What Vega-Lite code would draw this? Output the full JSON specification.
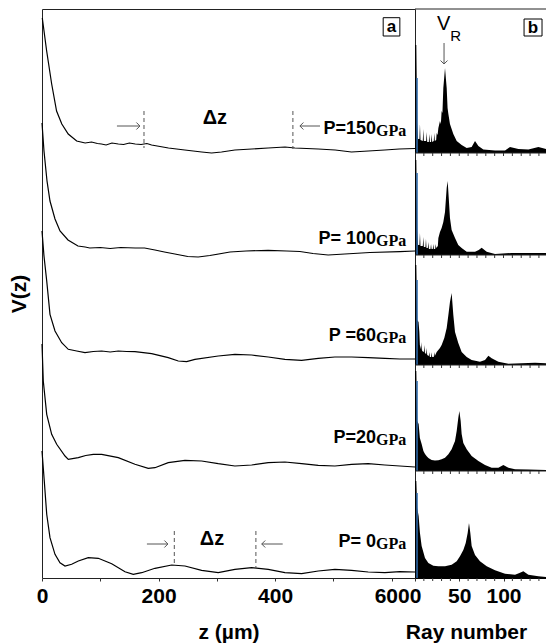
{
  "$schema": "https://vega.github.io/schema/vega-lite/v6.json",
  "padding": {"left": 7, "top": 8, "right": 0, "bottom": 0},
  "autosize": {"type": "pad"},
  "config": {
    "font": "Liberation Sans",
    "view": {"stroke": null},
    "axis": {"grid": false, "domainColor": "#000", "tickColor": "#333", "labelFont": "Liberation Sans", "titleFont": "Liberation Sans", "labelFontWeight": "bold", "titleFontWeight": "bold", "labelColor": "#000", "titleColor": "#000", "labelFontSize": 21, "titleFontSize": 21, "labelOverlap": false}
  },
  "datasets": {
    "vz": [
      {"P":150,"z":0.5,"v":560},{"P":150,"z":8,"v":527},{"P":150,"z":16.6,"v":494},{"P":150,"z":25,"v":467},{"P":150,"z":34,"v":454},{"P":150,"z":45,"v":444},{"P":150,"z":59.5,"v":437},{"P":150,"z":74,"v":435},{"P":150,"z":85,"v":436},{"P":150,"z":95,"v":434.5},{"P":150,"z":102,"v":434},{"P":150,"z":110,"v":433},{"P":150,"z":120,"v":435},{"P":150,"z":131,"v":434},{"P":150,"z":140,"v":433.5},{"P":150,"z":150,"v":435},{"P":150,"z":160,"v":434},{"P":150,"z":170,"v":433.5},{"P":150,"z":180,"v":434.5},{"P":150,"z":188,"v":433},{"P":150,"z":217,"v":430},{"P":150,"z":245,"v":428},{"P":150,"z":274,"v":426},{"P":150,"z":291,"v":425},{"P":150,"z":308,"v":426},{"P":150,"z":331,"v":428},{"P":150,"z":360,"v":429},{"P":150,"z":388,"v":430},{"P":150,"z":417,"v":431},{"P":150,"z":434,"v":430},{"P":150,"z":474,"v":429},{"P":150,"z":503,"v":428},{"P":150,"z":531,"v":426},{"P":150,"z":560,"v":427},{"P":150,"z":588,"v":428},{"P":150,"z":613,"v":429},{"P":150,"z":640,"v":429.5},
      {"P":100,"z":0,"v":455},{"P":100,"z":3.4,"v":427},{"P":100,"z":8.6,"v":397},{"P":100,"z":13.7,"v":377},{"P":100,"z":22.3,"v":359},{"P":100,"z":30.9,"v":347},{"P":100,"z":44.6,"v":338},{"P":100,"z":61.7,"v":332},{"P":100,"z":74,"v":331},{"P":100,"z":82,"v":330},{"P":100,"z":100,"v":330.5},{"P":100,"z":117,"v":329.5},{"P":100,"z":135,"v":330.5},{"P":100,"z":160,"v":330},{"P":100,"z":176,"v":330},{"P":100,"z":193.8,"v":328},{"P":100,"z":210,"v":326},{"P":100,"z":228,"v":324},{"P":100,"z":250,"v":321.5},{"P":100,"z":268,"v":321},{"P":100,"z":288,"v":322.5},{"P":100,"z":322.5,"v":326},{"P":100,"z":350,"v":327},{"P":100,"z":388,"v":327.7},{"P":100,"z":420,"v":327},{"P":100,"z":442.5,"v":326.5},{"P":100,"z":465,"v":324.5},{"P":100,"z":491,"v":323},{"P":100,"z":519.7,"v":324},{"P":100,"z":562.6,"v":325.5},{"P":100,"z":614,"v":326.3},{"P":100,"z":640,"v":327},
      {"P":60,"z":0,"v":347},{"P":60,"z":3.4,"v":322},{"P":60,"z":8.1,"v":297},{"P":60,"z":13.7,"v":263.7},{"P":60,"z":22.3,"v":247},{"P":60,"z":33.8,"v":235.3},{"P":60,"z":45.1,"v":228.7},{"P":60,"z":59.5,"v":227},{"P":60,"z":73.8,"v":225.3},{"P":60,"z":88,"v":226.5},{"P":60,"z":102.4,"v":227},{"P":60,"z":117,"v":226},{"P":60,"z":130.9,"v":227},{"P":60,"z":145,"v":226.5},{"P":60,"z":159.5,"v":226.3},{"P":60,"z":188.2,"v":224.3},{"P":60,"z":216.6,"v":220.3},{"P":60,"z":233.8,"v":217},{"P":60,"z":248.2,"v":216.3},{"P":60,"z":262.4,"v":218.7},{"P":60,"z":302.4,"v":222},{"P":60,"z":331,"v":223.7},{"P":60,"z":359.7,"v":223},{"P":60,"z":388.2,"v":221},{"P":60,"z":416.8,"v":218.7},{"P":60,"z":445.5,"v":217.7},{"P":60,"z":474,"v":219.7},{"P":60,"z":502.6,"v":221},{"P":60,"z":531.2,"v":221},{"P":60,"z":559.7,"v":220.3},{"P":60,"z":588.3,"v":219.7},{"P":60,"z":614,"v":219},{"P":60,"z":640,"v":219},
      {"P":20,"z":0,"v":234},{"P":20,"z":2.2,"v":197},{"P":20,"z":8.1,"v":163.7},{"P":20,"z":16.6,"v":143.7},{"P":20,"z":25.2,"v":133.7},{"P":20,"z":39.5,"v":122},{"P":20,"z":45.1,"v":118.7},{"P":20,"z":62.3,"v":120.3},{"P":20,"z":75,"v":122.5},{"P":20,"z":88,"v":123.7},{"P":20,"z":102.4,"v":123.7},{"P":20,"z":130.9,"v":120.3},{"P":20,"z":159.5,"v":113.7},{"P":20,"z":182.3,"v":109.7},{"P":20,"z":193.8,"v":110.3},{"P":20,"z":216.6,"v":115.3},{"P":20,"z":245.3,"v":117.7},{"P":20,"z":273.9,"v":117},{"P":20,"z":302.4,"v":114.3},{"P":20,"z":331,"v":112},{"P":20,"z":359.7,"v":113},{"P":20,"z":388.2,"v":115.3},{"P":20,"z":416.8,"v":116},{"P":20,"z":445.5,"v":114.3},{"P":20,"z":474,"v":112.7},{"P":20,"z":502.6,"v":112},{"P":20,"z":531.2,"v":113.7},{"P":20,"z":559.7,"v":114.3},{"P":20,"z":588.3,"v":113},{"P":20,"z":614,"v":112},{"P":20,"z":640,"v":111},
      {"P":0,"z":0,"v":127},{"P":0,"z":3.9,"v":97},{"P":0,"z":8.1,"v":63.7},{"P":0,"z":13.7,"v":40.3},{"P":0,"z":22.3,"v":23.7},{"P":0,"z":30.9,"v":15.3},{"P":0,"z":39.5,"v":12},{"P":0,"z":50.9,"v":13.7},{"P":0,"z":62.3,"v":17},{"P":0,"z":79.4,"v":20.3},{"P":0,"z":96.6,"v":19.7},{"P":0,"z":119.6,"v":14.3},{"P":0,"z":142.4,"v":6.3},{"P":0,"z":156.6,"v":3.7},{"P":0,"z":171,"v":5.3},{"P":0,"z":193.8,"v":9.7},{"P":0,"z":222.5,"v":13},{"P":0,"z":245.3,"v":12},{"P":0,"z":273.9,"v":7.7},{"P":0,"z":302.4,"v":5.3},{"P":0,"z":331,"v":8.7},{"P":0,"z":359.7,"v":10.3},{"P":0,"z":388.2,"v":8.7},{"P":0,"z":416.8,"v":5.3},{"P":0,"z":445.5,"v":4.3},{"P":0,"z":474,"v":7},{"P":0,"z":502.6,"v":8.7},{"P":0,"z":531.2,"v":7.7},{"P":0,"z":559.7,"v":6},{"P":0,"z":588.3,"v":5.3},{"P":0,"z":614,"v":6.3},{"P":0,"z":640,"v":6}
    ],
    "spec": [
      {"P":150,"ray":0,"lv":533},{"P":150,"ray":1.5,"lv":533},{"P":150,"ray":2.5,"lv":455},{"P":150,"ray":3.5,"lv":439},{"P":150,"ray":5.0,"lv":439},{"P":150,"ray":5.6,"lv":454},{"P":150,"ray":6.2,"lv":438},{"P":150,"ray":8.8,"lv":437},{"P":150,"ray":9.4,"lv":449},{"P":150,"ray":10.0,"lv":437},{"P":150,"ray":12.6,"lv":437},{"P":150,"ray":13.2,"lv":446},{"P":150,"ray":13.8,"lv":436},{"P":150,"ray":15.6,"lv":436},{"P":150,"ray":16.2,"lv":444},{"P":150,"ray":16.8,"lv":436},{"P":150,"ray":18.2,"lv":436},{"P":150,"ray":18.8,"lv":444},{"P":150,"ray":19.4,"lv":436},{"P":150,"ray":21.2,"lv":437},{"P":150,"ray":21.8,"lv":445},{"P":150,"ray":22.4,"lv":437},{"P":150,"ray":23.9,"lv":438},{"P":150,"ray":24.5,"lv":445},{"P":150,"ray":25.5,"lv":443},{"P":150,"ray":26.4,"lv":450},{"P":150,"ray":28.2,"lv":457},{"P":150,"ray":29.2,"lv":454},{"P":150,"ray":30.1,"lv":467},{"P":150,"ray":31.0,"lv":465},{"P":150,"ray":32.0,"lv":490},{"P":150,"ray":33.9,"lv":510},{"P":150,"ray":35.8,"lv":490},{"P":150,"ray":36.8,"lv":470},{"P":150,"ray":37.7,"lv":464},{"P":150,"ray":39.5,"lv":454},{"P":150,"ray":41.4,"lv":449},{"P":150,"ray":43.3,"lv":444},{"P":150,"ray":47.1,"lv":437},{"P":150,"ray":52.7,"lv":433},{"P":150,"ray":58.4,"lv":430},{"P":150,"ray":64.0,"lv":431},{"P":150,"ray":67.8,"lv":437},{"P":150,"ray":71.6,"lv":432},{"P":150,"ray":77.2,"lv":428.5},{"P":150,"ray":90.4,"lv":427.5},{"P":150,"ray":101.7,"lv":427.5},{"P":150,"ray":107.3,"lv":431},{"P":150,"ray":116.8,"lv":429},{"P":150,"ray":128.1,"lv":428.5},{"P":150,"ray":139.4,"lv":431},{"P":150,"ray":148,"lv":429},
      {"P":100,"ray":0,"lv":418},{"P":100,"ray":1.5,"lv":418},{"P":100,"ray":2.5,"lv":348},{"P":100,"ray":3.5,"lv":333},{"P":100,"ray":5.0,"lv":333},{"P":100,"ray":5.6,"lv":345},{"P":100,"ray":6.2,"lv":332},{"P":100,"ray":8.8,"lv":332},{"P":100,"ray":9.4,"lv":341},{"P":100,"ray":10.0,"lv":331},{"P":100,"ray":11.8,"lv":331},{"P":100,"ray":12.4,"lv":339},{"P":100,"ray":13.0,"lv":330},{"P":100,"ray":14.5,"lv":330},{"P":100,"ray":15.1,"lv":336},{"P":100,"ray":15.7,"lv":329},{"P":100,"ray":17.5,"lv":329},{"P":100,"ray":18.1,"lv":334},{"P":100,"ray":18.7,"lv":329},{"P":100,"ray":20.1,"lv":329},{"P":100,"ray":20.7,"lv":334},{"P":100,"ray":21.3,"lv":329},{"P":100,"ray":22.8,"lv":329},{"P":100,"ray":23.4,"lv":334},{"P":100,"ray":24.0,"lv":330},{"P":100,"ray":25.8,"lv":332},{"P":100,"ray":26.4,"lv":340},{"P":100,"ray":28.2,"lv":346},{"P":100,"ray":30.1,"lv":350},{"P":100,"ray":32.0,"lv":356},{"P":100,"ray":33.9,"lv":366},{"P":100,"ray":35.8,"lv":390},{"P":100,"ray":36.9,"lv":397},{"P":100,"ray":38.4,"lv":376},{"P":100,"ray":39.5,"lv":360},{"P":100,"ray":41.4,"lv":348},{"P":100,"ray":45.2,"lv":340},{"P":100,"ray":48.9,"lv":333},{"P":100,"ray":52.7,"lv":330},{"P":100,"ray":58.4,"lv":326.3},{"P":100,"ray":67.8,"lv":326.3},{"P":100,"ray":72,"lv":328},{"P":100,"ray":75.3,"lv":330.3},{"P":100,"ray":81,"lv":326.3},{"P":100,"ray":90.4,"lv":324},{"P":100,"ray":109.2,"lv":325},{"P":100,"ray":128.1,"lv":325},{"P":100,"ray":148,"lv":325},
      {"P":60,"ray":0,"lv":313},{"P":60,"ray":1.5,"lv":313},{"P":60,"ray":2.5,"lv":258},{"P":60,"ray":4.0,"lv":256},{"P":60,"ray":4.9,"lv":246},{"P":60,"ray":5.5,"lv":233},{"P":60,"ray":7.0,"lv":228},{"P":60,"ray":7.5,"lv":236},{"P":60,"ray":8.1,"lv":227},{"P":60,"ray":10.0,"lv":226},{"P":60,"ray":10.6,"lv":233},{"P":60,"ray":11.2,"lv":225},{"P":60,"ray":12.6,"lv":224},{"P":60,"ray":13.2,"lv":230},{"P":60,"ray":13.8,"lv":223},{"P":60,"ray":15.6,"lv":222},{"P":60,"ray":16.2,"lv":226},{"P":60,"ray":16.8,"lv":221},{"P":60,"ray":18.2,"lv":221},{"P":60,"ray":18.8,"lv":225.7},{"P":60,"ray":19.4,"lv":221},{"P":60,"ray":21.2,"lv":221},{"P":60,"ray":21.8,"lv":226},{"P":60,"ray":22.4,"lv":222},{"P":60,"ray":24.5,"lv":226},{"P":60,"ray":28.2,"lv":230},{"P":60,"ray":30.1,"lv":233},{"P":60,"ray":33.1,"lv":240},{"P":60,"ray":35.8,"lv":250},{"P":60,"ray":37.7,"lv":263},{"P":60,"ray":39.5,"lv":276},{"P":60,"ray":41.4,"lv":285},{"P":60,"ray":43.3,"lv":263},{"P":60,"ray":45.2,"lv":246},{"P":60,"ray":48.9,"lv":235},{"P":60,"ray":52.7,"lv":226},{"P":60,"ray":58.4,"lv":221},{"P":60,"ray":64.0,"lv":218},{"P":60,"ray":73.4,"lv":216.3},{"P":60,"ray":79.1,"lv":218},{"P":60,"ray":82.9,"lv":222.3},{"P":60,"ray":86.6,"lv":219.7},{"P":60,"ray":94.2,"lv":216.3},{"P":60,"ray":105.5,"lv":214.3},{"P":60,"ray":120.6,"lv":214.7},{"P":60,"ray":135.6,"lv":215.3},{"P":60,"ray":148,"lv":214.7},
      {"P":20,"ray":0,"lv":207},{"P":20,"ray":1.5,"lv":207},{"P":20,"ray":2.5,"lv":157},{"P":20,"ray":4.1,"lv":154},{"P":20,"ray":5.5,"lv":140},{"P":20,"ray":7.5,"lv":134},{"P":20,"ray":9.5,"lv":127},{"P":20,"ray":11.3,"lv":124},{"P":20,"ray":13,"lv":122},{"P":20,"ray":15.1,"lv":120},{"P":20,"ray":18.8,"lv":118},{"P":20,"ray":22.6,"lv":117.5},{"P":20,"ray":26.4,"lv":117.7},{"P":20,"ray":30.1,"lv":118.7},{"P":20,"ray":33.9,"lv":120.3},{"P":20,"ray":37.7,"lv":123.7},{"P":20,"ray":41.4,"lv":128.7},{"P":20,"ray":45.2,"lv":137},{"P":20,"ray":47.1,"lv":147},{"P":20,"ray":48.9,"lv":160},{"P":20,"ray":50.1,"lv":167},{"P":20,"ray":51.6,"lv":157},{"P":20,"ray":52.7,"lv":144},{"P":20,"ray":54.6,"lv":135},{"P":20,"ray":58.4,"lv":128.7},{"P":20,"ray":64.0,"lv":122},{"P":20,"ray":71.6,"lv":117},{"P":20,"ray":79.1,"lv":113},{"P":20,"ray":86.6,"lv":110.3},{"P":20,"ray":94.2,"lv":110.3},{"P":20,"ray":99.8,"lv":113},{"P":20,"ray":105.5,"lv":110.3},{"P":20,"ray":113,"lv":108.7},{"P":20,"ray":128.1,"lv":108.5},{"P":20,"ray":148,"lv":108},
      {"P":0,"ray":0,"lv":97},{"P":0,"ray":1.5,"lv":97},{"P":0,"ray":2.5,"lv":70},{"P":0,"ray":4.1,"lv":62},{"P":0,"ray":5.6,"lv":45},{"P":0,"ray":7.5,"lv":32},{"P":0,"ray":11.3,"lv":20},{"P":0,"ray":15.1,"lv":15},{"P":0,"ray":20.7,"lv":12.3},{"P":0,"ray":26.4,"lv":11.7},{"P":0,"ray":33.9,"lv":11.7},{"P":0,"ray":41.4,"lv":13.3},{"P":0,"ray":47.1,"lv":16.7},{"P":0,"ray":50.8,"lv":21.7},{"P":0,"ray":54.6,"lv":28},{"P":0,"ray":57.3,"lv":35},{"P":0,"ray":59.5,"lv":45},{"P":0,"ray":61.0,"lv":55},{"P":0,"ray":62.5,"lv":45},{"P":0,"ray":64.0,"lv":32},{"P":0,"ray":67.8,"lv":23},{"P":0,"ray":73.4,"lv":16.7},{"P":0,"ray":81.0,"lv":11.7},{"P":0,"ray":90.4,"lv":7.7},{"P":0,"ray":101.7,"lv":4.3},{"P":0,"ray":113,"lv":3.3},{"P":0,"ray":118,"lv":5},{"P":0,"ray":122.4,"lv":6.7},{"P":0,"ray":128.1,"lv":3.3},{"P":0,"ray":139.4,"lv":1.7},{"P":0,"ray":148,"lv":1}
    ],
    "blue": [
      {"P":150,"ray":2.3,"lo":425,"hi":500},{"P":100,"ray":2.3,"lo":323,"hi":405},{"P":60,"ray":2.3,"lo":213,"hi":298},{"P":20,"ray":2.3,"lo":107,"hi":197},{"P":0,"ray":2.3,"lo":0,"hi":85}
    ],
    "bases": [{"lv":569},{"lv":425},{"lv":323},{"lv":213},{"lv":107}],
    "baseticks": [
      {"lv":425,"rays":[10,20,30,40,50,60,70,80,90,100,110,120,130,140]},
      {"lv":323,"rays":[10,20,30,40,50,60,70,80,90,100,110,120,130,140]},
      {"lv":213,"rays":[10,20,30,40,50,60,70,80,90,100,110,120,130,140]},
      {"lv":107,"rays":[10,20,30,40,50,60,70,80,90,100,110,120,130,140]},
      {"lv":0,"rays":[10,20,30,40,60,70,80,90,110,120,130,140]}
    ]
  },
  "spacing": 0,
  "bounds": "flush",
  "hconcat": [
    {
      "width": 373,
      "height": 569,
      "view": {"stroke": "#222", "strokeWidth": 1},
      "layer": [
        {
          "data": {"name": "vz"},
          "mark": {"type": "line", "color": "#000", "strokeWidth": 1.2},
          "encoding": {
            "x": {"field": "z", "type": "quantitative", "scale": {"domain": [0, 640], "nice": false, "zero": false},
                  "axis": {"title": "z (µm)", "values": [0,100,200,300,400,500,600], "labelExpr": "datum.value % 200 === 0 ? datum.label : ''", "labelOverlap": false, "tickSize": 3, "labelPadding": 4, "titlePadding": 15, "labelFlush": false, "domain": false}},
            "y": {"field": "v", "type": "quantitative", "scale": {"domain": [0, 569], "nice": false},
                  "axis": {"title": "V(z)", "labels": false, "ticks": false, "domain": false, "titlePadding": 13}},
            "detail": {"field": "P", "type": "nominal"}
          }
        },
        {
          "data": {"values": [{"z":175,"v1":467,"v2":430},{"z":430.5,"v1":467,"v2":429},{"z":227,"v1":47,"v2":14},{"z":367,"v1":47,"v2":10}]},
          "mark": {"type": "rule", "color": "#555", "strokeWidth": 1, "strokeDash": [4, 3]},
          "encoding": {"x": {"field": "z", "type": "quantitative"}, "y": {"field": "v1", "type": "quantitative"}, "y2": {"field": "v2"}}
        },
        {
          "data": {"values": [{"z1":128.6,"z2":168,"v":452},{"z1":442.5,"z2":477,"v":452},{"z1":180,"z2":216,"v":34},{"z1":377,"z2":413,"v":34}]},
          "mark": {"type": "rule", "color": "#555", "strokeWidth": 1},
          "encoding": {"x": {"field": "z1", "type": "quantitative"}, "x2": {"field": "z2"}, "y": {"field": "v", "type": "quantitative"}}
        },
        {
          "data": {"values": [{"z":168,"v":452,"dir":"r"},{"z":442.5,"v":452,"dir":"l"},{"z":216,"v":34,"dir":"r"},{"z":377,"v":34,"dir":"l"}]},
          "mark": {"type": "point", "filled": false, "stroke": "#555", "strokeWidth": 1, "size": 49, "opacity": 1},
          "encoding": {
            "x": {"field": "z", "type": "quantitative"}, "y": {"field": "v", "type": "quantitative"},
            "shape": {"field": "dir", "type": "nominal", "scale": {"domain": ["r", "l"], "range": ["M-1,-1L0,0L-1,1", "M1,-1L0,0L1,1"]}, "legend": null}
          }
        },
        {
          "data": {"values": [{"z":296.7,"v":460,"t":"Δz"},{"z":291.6,"v":39,"t":"Δz"}]},
          "mark": {"type": "text", "font": "Liberation Sans", "fontWeight": "bold", "fontSize": 20, "align": "center", "baseline": "middle", "color": "#000"},
          "encoding": {"x": {"field": "z", "type": "quantitative"}, "y": {"field": "v", "type": "quantitative"}, "text": {"field": "t", "type": "nominal"}}
        },
        {
          "data": {"values": [{"z":573,"v":449,"t":"P=150"},{"z":573,"v":339,"t":"P= 100"},{"z":573,"v":242,"t":"P =60"},{"z":573,"v":140,"t":"P=20"},{"z":573,"v":36,"t":"P= 0"}]},
          "mark": {"type": "text", "font": "Liberation Sans", "fontWeight": "bold", "fontSize": 18, "align": "right", "baseline": "middle", "color": "#000"},
          "encoding": {"x": {"field": "z", "type": "quantitative"}, "y": {"field": "v", "type": "quantitative"}, "text": {"field": "t", "type": "nominal"}}
        },
        {
          "data": {"values": [{"z":573,"v":449,"u":"GPa"},{"z":573,"v":339,"u":"GPa"},{"z":573,"v":242,"u":"GPa"},{"z":573,"v":140,"u":"GPa"},{"z":573,"v":36,"u":"GPa"}]},
          "mark": {"type": "text", "font": "Liberation Serif", "fontWeight": "bold", "fontSize": 16, "align": "left", "baseline": "middle", "dy": 2, "color": "#000"},
          "encoding": {"x": {"field": "z", "type": "quantitative"}, "y": {"field": "v", "type": "quantitative"}, "text": {"field": "u", "type": "nominal"}}
        },
        {
          "data": {"values": [{"z1":585.4,"z2":614,"v1":560.3,"v2":542}]},
          "mark": {"type": "rect", "fill": "#fff", "stroke": "#000", "strokeWidth": 1},
          "encoding": {"x": {"field": "z1", "type": "quantitative"}, "x2": {"field": "z2"}, "y": {"field": "v1", "type": "quantitative"}, "y2": {"field": "v2"}}
        },
        {
          "data": {"values": [{"z":599.7,"v":551,"t":"a"}]},
          "mark": {"type": "text", "font": "Liberation Sans", "fontWeight": "bold", "fontSize": 17, "align": "center", "baseline": "middle", "color": "#000"},
          "encoding": {"x": {"field": "z", "type": "quantitative"}, "y": {"field": "v", "type": "quantitative"}, "text": {"field": "t", "type": "nominal"}}
        }
      ]
    },
    {
      "width": 131,
      "height": 569,
      "layer": [
        {
          "data": {"name": "spec"}, "transform": [{"filter": "datum.P === 150"}],
          "mark": {"type": "area", "color": "#000", "opacity": 1},
          "encoding": {
            "x": {"field": "ray", "type": "quantitative", "scale": {"domain": [0, 148], "nice": false, "zero": false},
                  "axis": {"title": "Ray number", "titleX": 51, "values": [0, 50, 100], "labelOverlap": false, "tickSize": 3, "labelPadding": 4, "titlePadding": 15, "labelFlush": false}},
            "y": {"field": "lv", "type": "quantitative", "scale": {"domain": [0, 569], "nice": false}, "axis": null},
            "y2": {"datum": 425}
          }
        },
        {
          "data": {"name": "spec"}, "transform": [{"filter": "datum.P === 100"}],
          "mark": {"type": "area", "color": "#000", "opacity": 1},
          "encoding": {"x": {"field": "ray", "type": "quantitative"}, "y": {"field": "lv", "type": "quantitative"}, "y2": {"datum": 323}}
        },
        {
          "data": {"name": "spec"}, "transform": [{"filter": "datum.P === 60"}],
          "mark": {"type": "area", "color": "#000", "opacity": 1},
          "encoding": {"x": {"field": "ray", "type": "quantitative"}, "y": {"field": "lv", "type": "quantitative"}, "y2": {"datum": 213}}
        },
        {
          "data": {"name": "spec"}, "transform": [{"filter": "datum.P === 20"}],
          "mark": {"type": "area", "color": "#000", "opacity": 1},
          "encoding": {"x": {"field": "ray", "type": "quantitative"}, "y": {"field": "lv", "type": "quantitative"}, "y2": {"datum": 107}}
        },
        {
          "data": {"name": "spec"}, "transform": [{"filter": "datum.P === 0"}],
          "mark": {"type": "area", "color": "#000", "opacity": 1},
          "encoding": {"x": {"field": "ray", "type": "quantitative"}, "y": {"field": "lv", "type": "quantitative"}, "y2": {"datum": 0}}
        },
        {
          "data": {"name": "blue"},
          "mark": {"type": "rule", "color": "#2f6db0", "strokeWidth": 1.5},
          "encoding": {"x": {"field": "ray", "type": "quantitative"}, "y": {"field": "hi", "type": "quantitative"}, "y2": {"field": "lo"}}
        },
        {
          "data": {"name": "bases"},
          "mark": {"type": "rule", "color": "#222", "strokeWidth": 1},
          "encoding": {"y": {"field": "lv", "type": "quantitative"}}
        },
        {
          "data": {"name": "baseticks"},
          "transform": [{"flatten": ["rays"], "as": ["tray"]}],
          "mark": {"type": "tick", "orient": "vertical", "color": "#333", "size": 3, "thickness": 1, "yOffset": 1.5, "opacity": 1},
          "encoding": {"x": {"field": "tray", "type": "quantitative"}, "y": {"field": "lv", "type": "quantitative"}}
        },
        {
          "data": {"values": [{"ray":32.5,"lv":554.5,"t":"V"}]},
          "mark": {"type": "text", "font": "Liberation Sans", "fontSize": 20, "align": "center", "baseline": "middle", "color": "#000"},
          "encoding": {"x": {"field": "ray", "type": "quantitative"}, "y": {"field": "lv", "type": "quantitative"}, "text": {"field": "t", "type": "nominal"}}
        },
        {
          "data": {"values": [{"ray":46,"lv":542,"t":"R"}]},
          "mark": {"type": "text", "font": "Liberation Sans", "fontSize": 15, "align": "center", "baseline": "middle", "color": "#000"},
          "encoding": {"x": {"field": "ray", "type": "quantitative"}, "y": {"field": "lv", "type": "quantitative"}, "text": {"field": "t", "type": "nominal"}}
        },
        {
          "data": {"values": [{"ray":32.8,"a1":535,"a2":514}]},
          "mark": {"type": "rule", "color": "#555", "strokeWidth": 1},
          "encoding": {"x": {"field": "ray", "type": "quantitative"}, "y": {"field": "a1", "type": "quantitative"}, "y2": {"field": "a2"}}
        },
        {
          "data": {"values": [{"ray":32.8,"lv":514}]},
          "mark": {"type": "point", "filled": false, "stroke": "#555", "strokeWidth": 1, "size": 49, "opacity": 1, "shape": "M-1,-1L0,0L1,-1"},
          "encoding": {"x": {"field": "ray", "type": "quantitative"}, "y": {"field": "lv", "type": "quantitative"}}
        },
        {
          "data": {"values": [{"r1":123.2,"r2":143.5,"a1":559,"a2":542}]},
          "mark": {"type": "rect", "fill": "#fff", "stroke": "#000", "strokeWidth": 1},
          "encoding": {"x": {"field": "r1", "type": "quantitative"}, "x2": {"field": "r2"}, "y": {"field": "a1", "type": "quantitative"}, "y2": {"field": "a2"}}
        },
        {
          "data": {"values": [{"ray":133.3,"lv":550.5,"t":"b"}]},
          "mark": {"type": "text", "font": "Liberation Sans", "fontWeight": "bold", "fontSize": 17, "align": "center", "baseline": "middle", "color": "#000"},
          "encoding": {"x": {"field": "ray", "type": "quantitative"}, "y": {"field": "lv", "type": "quantitative"}, "text": {"field": "t", "type": "nominal"}}
        }
      ]
    }
  ]
}
